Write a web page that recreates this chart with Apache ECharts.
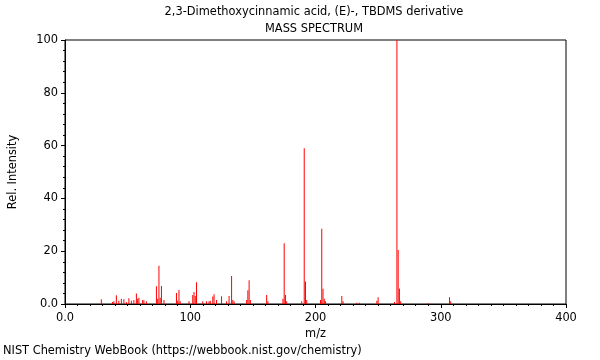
<!DOCTYPE html>
<html>
<head>
<meta charset="utf-8">
<script src="https://cdn.jsdelivr.net/npm/echarts@6/dist/echarts.min.js"></script>
<style>
  html, body { margin: 0; padding: 0; background: #fff; }
  #chart { width: 600px; height: 360px; }
</style>
</head>
<body>
<div id="chart"></div>
<script>
// peaks (m/z, relative intensity)
const mz = [29, 38, 39, 41, 43, 45, 47, 49, 51, 53, 55, 57, 58, 59, 62, 63, 65,
  73, 74, 75, 76, 77, 79, 89, 90, 91, 92, 99, 102, 103, 104, 105, 110, 113,
  115, 116, 118, 119, 121, 125, 129, 131, 133, 134, 135, 145, 146, 147, 148,
  161, 162, 174, 175, 176, 177, 189, 191, 192, 193, 204, 205, 206, 207, 208,
  221, 222, 233, 235, 249, 250, 263, 265, 266, 267, 268, 290, 307, 308]
const intensity = [1.8, 0.8, 1.0, 3.3, 1.2, 2.0, 1.8, 0.8, 2.2, 1.2, 1.5, 4.0, 2.0, 2.4, 1.5, 1.4, 1.0,
  6.7, 2.0, 14.5, 2.4, 6.8, 1.5, 4.2, 1.2, 5.3, 1.0, 1.0, 3.4, 4.5, 3.0, 8.2, 1.0, 1.0,
  1.0, 1.2, 2.8, 3.7, 1.5, 2.9, 1.0, 3.0, 10.6, 1.5, 1.0, 1.5, 5.2, 9.0, 1.5,
  3.4, 1.0, 2.0, 23.0, 3.4, 1.0, 1.0, 59.0, 8.5, 1.5, 1.5, 28.5, 5.8, 2.0, 1.0,
  3.0, 1.0, 0.5, 0.5, 1.2, 2.6, 0.8, 100, 20.5, 5.9, 1.0, 0.3, 2.6, 1.0]

const titleLines = ['2,3-Dimethoxycinnamic acid, (E)-, TBDMS derivative', 'MASS SPECTRUM']
const footer = 'NIST Chemistry WebBook (https://webbook.nist.gov/chemistry)'

const font = 'DejaVu Sans'
const fs = 11.4
const chart = echarts.init(document.getElementById('chart'))

const peaks = mz.map((m, i) => [m, intensity[i]])
const txt = { fontFamily: font, fontSize: fs, fontWeight: 'normal', color: '#000' }

chart.setOption({
  animation: false,
  backgroundColor: '#fff',
  textStyle: { fontFamily: font },
  title: [
    { text: titleLines[0], left: 314, top: 7, textAlign: 'center', padding: 0, textStyle: txt },
    { text: titleLines[1], left: 314, top: 24, textAlign: 'center', padding: 0, textStyle: txt },
    { text: footer, left: 3, top: 346, padding: 0, textStyle: txt },
  ],
  grid: {
    left: 61, right: 34, top: 40, bottom: 56,
    show: true, borderColor: '#000', borderWidth: 1,
  },
  xAxis: {
    type: 'value',
    min: 0, max: 400, interval: 100,
    name: 'm/z', nameLocation: 'middle', nameGap: 24,
    nameTextStyle: { fontFamily: font, fontSize: fs, color: '#000' },
    axisLine: { show: true, lineStyle: { color: '#000' } },
    axisTick: { show: true, length: 4, lineStyle: { color: '#000' } },
    minorTick: { show: true, splitNumber: 10, length: 2, lineStyle: { color: '#000' } },
    splitLine: { show: false },
    axisLabel: {
      fontFamily: font, fontSize: fs, color: '#000', margin: 9,
      formatter: v => (v === 0 ? '0.0' : String(v)),
    },
  },
  yAxis: {
    type: 'value',
    min: 0, max: 100, interval: 20,
    name: 'Rel. Intensity', nameLocation: 'middle', nameGap: 46, nameRotate: 90,
    nameTextStyle: { fontFamily: font, fontSize: fs, color: '#000' },
    axisLine: { show: true, lineStyle: { color: '#000' } },
    axisTick: { show: true, length: 4, lineStyle: { color: '#000' } },
    minorTick: { show: true, splitNumber: 5, length: 2, lineStyle: { color: '#000' } },
    splitLine: { show: false },
    axisLabel: {
      fontFamily: font, fontSize: fs, color: '#000', margin: 7,
      formatter: v => (v === 0 ? '0.0' : String(v)),
    },
  },
  series: [
    {
      type: 'bar',
      data: peaks,
      barWidth: 1,
      itemStyle: { color: '#ff0000' },
      silent: true,
    },
  ],
})
</script>
</body>
</html>
